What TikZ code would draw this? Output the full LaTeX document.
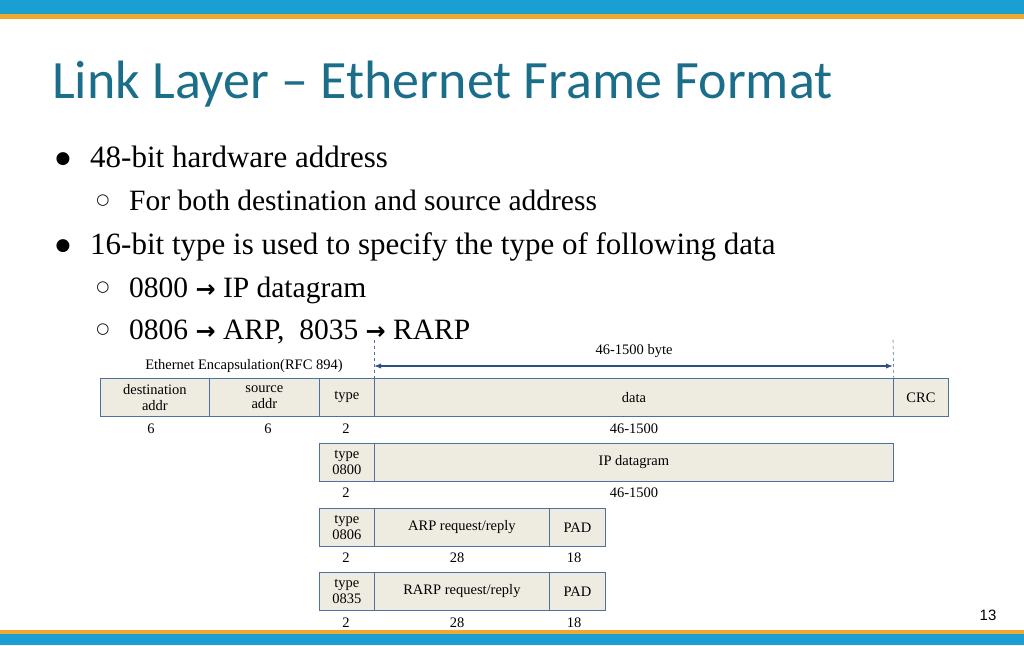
\documentclass[tikz,border=0pt]{standalone}
\usepackage{fontspec}
\setmainfont{Liberation Serif}
\newfontfamily\titlefont{Carlito}
\newfontfamily\symfont{DejaVu Sans}
\usetikzlibrary{arrows.meta}
\definecolor{topblue}{HTML}{1A9FD2}
\definecolor{barorange}{HTML}{F0A830}
\definecolor{titlecol}{HTML}{1B6E8A}
\definecolor{boxfill}{HTML}{EEECE1}
\definecolor{boxline}{HTML}{4F6F9F}
\definecolor{arrowcol}{HTML}{2F4F7F}
\tikzset{
  fld/.style={draw=boxline,fill=boxfill,line width=0.8pt,font=\fontsize{14.5}{15}\selectfont,align=center,inner sep=0pt},
  lbl/.style={font=\fontsize{14.5}{15}\selectfont,inner sep=0pt},
  bul/.style={anchor=base west,inner sep=0pt,font=\fontsize{31}{34}\selectfont},
  sbul/.style={anchor=base west,inner sep=0pt,font=\fontsize{29.5}{32}\selectfont},
  mk/.style={anchor=center,inner sep=0pt,font=\symfont\fontsize{17}{17}\selectfont},
  smk/.style={anchor=center,inner sep=0pt,font=\symfont\fontsize{15}{15}\selectfont}
}
\newcommand{\ar}{{\symfont\fontsize{24}{24}\selectfont\textbf{→}}}
\newcommand{\fieldbox}[6]{% name x1 y1 x2 y2 text
  \node[fld,minimum width=#4-#2,minimum height=#5-#3,anchor=north west] (#1) at (#2,#3) {#6};}
\begin{document}
\begin{tikzpicture}[x=1pt,y=-1pt]
\useasboundingbox (0,0) rectangle (1024,645);
\fill[topblue] (0,0) rectangle (1024,14);
\fill[barorange] (0,14) rectangle (1024,19);
\fill[barorange] (0,630) rectangle (1024,634);
\fill[topblue] (0,634) rectangle (1024,645);
\node[anchor=base west,inner sep=0pt,text=titlecol,font=\titlefont\fontsize{54}{58}\selectfont] (title) at (52,98) {Link Layer – Ethernet Frame Format};
\node[mk] (m1) at (63,159) {●};
\node[bul] (b1) at (90,167) {48-bit hardware address};
\node[smk] (m2) at (103,201) {○};
\node[sbul] (b2) at (129,210) {For both destination and source address};
\node[mk] (m3) at (63,246) {●};
\node[bul] (b3) at (90,254) {16-bit type is used to specify the type of following data};
\node[smk] (m4) at (103,288) {○};
\node[sbul] (b4) at (129,297) {0800 \ar{} IP datagram};
\node[smk] (m5) at (103,330) {○};
\node[sbul] (b5) at (129,339) {0806 \ar{} ARP,\ \ 8035 \ar{} RARP};
% row 1
\fieldbox{dst}{100}{378}{209}{416}{destination\\[1pt]addr}
\fieldbox{src}{209}{378}{319}{416}{source\\[1pt]addr}
\fieldbox{typ}{319}{378}{374}{416}{type}
\fieldbox{dat}{374}{378}{893}{416}{data}
\fieldbox{crc}{893}{378}{948}{416}{CRC}
\node[lbl] (l1a) at (151,429) {6};
\node[lbl] (l1b) at (268,429) {6};
\node[lbl] (l1c) at (346,429) {2};
\node[lbl] (l1d) at (634,429) {46-1500};
\coordinate (d1t) at (374,340); \coordinate (d2t) at (893,340);
\draw[boxline,dashed,line width=0.6pt] (d1t) -- (dat.north west);
\draw[boxline,dashed,line width=0.6pt] (d2t) -- (dat.north east);
\coordinate (a1) at (374,366); \coordinate (a2) at (893,366);
\draw[arrowcol,line width=1.2pt,{Latex[length=7pt]}-{Latex[length=7pt]}] (a1) -- (a2);
\node[lbl] (byte) at (634,351) {46-1500 byte};
\node[lbl] (enc) at (244,366) {Ethernet Encapsulation(RFC 894)};
% row 2
\fieldbox{t2}{319}{443}{374}{481}{type\\[1pt]0800}
\fieldbox{ip}{374}{443}{893}{481}{IP datagram}
\node[lbl] (l2a) at (346,493) {2};
\node[lbl] (l2b) at (634,493) {46-1500};
% row 3
\fieldbox{t3}{319}{508}{374}{546}{type\\[1pt]0806}
\fieldbox{arp}{374}{508}{549}{546}{ARP request/reply}
\fieldbox{pad3}{549}{508}{605}{546}{PAD}
\node[lbl] (l3a) at (346,558) {2};
\node[lbl] (l3b) at (457,558) {28};
\node[lbl] (l3c) at (574,558) {18};
% row 4
\fieldbox{t4}{319}{572}{374}{610}{type\\[1pt]0835}
\fieldbox{rarp}{374}{572}{549}{610}{RARP request/reply}
\fieldbox{pad4}{549}{572}{605}{610}{PAD}
\node[lbl] (l4a) at (346,623) {2};
\node[lbl] (l4b) at (457,623) {28};
\node[lbl] (l4c) at (574,623) {18};
\node[inner sep=0pt,font=\fontspec{Liberation Sans}\fontsize{15}{16}\selectfont] (pg) at (988,615) {13};
\end{tikzpicture}
\end{document}
